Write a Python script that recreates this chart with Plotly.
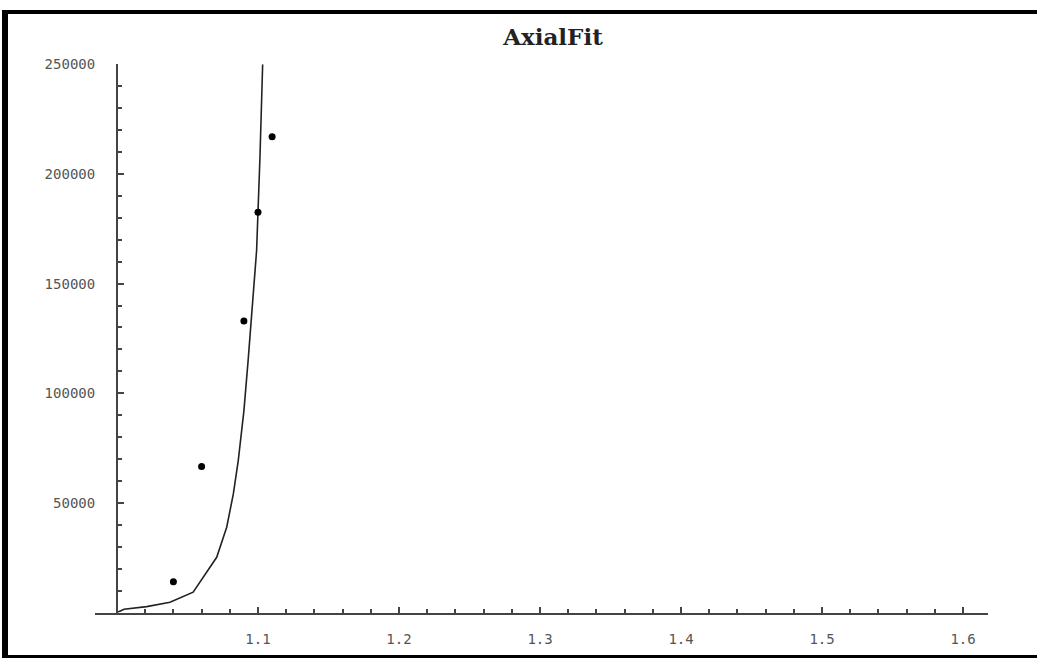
import plotly.graph_objects as go

W, H = 1037, 659

# Measured data points
data_x = [1.04, 1.06, 1.09, 1.10, 1.11]
data_y = [14000, 66600, 133000, 182500, 217000]

# Fitted curve (sampled)
fit_x = [1.0, 1.005, 1.021, 1.0376, 1.054, 1.0707, 1.0778, 1.0825, 1.086,
         1.09, 1.093, 1.0967, 1.099, 1.1014, 1.1026, 1.1033]
fit_y = [0, 1500, 2700, 4700, 9300, 25200, 38900, 54100, 69300,
         92000, 115000, 145000, 165000, 208000, 234000, 250000]

x_tickvals = [1.1, 1.2, 1.3, 1.4, 1.5, 1.6]
x_ticktext = ["1.1", "1.2", "1.3", "1.4", "1.5", "1.6"]
y_tickvals = [50000, 100000, 150000, 200000, 250000]
y_ticktext = ["50000", "100000", "150000", "200000", "250000"]

def px(x):
    return x / W

def py(y):
    return 1 - y / H

fig = go.Figure()
fig.add_trace(go.Scatter(x=fit_x, y=fit_y, mode="lines",
                         line=dict(color="#222222", width=1.6),
                         showlegend=False, hoverinfo="skip"))
fig.add_trace(go.Scatter(x=data_x, y=data_y, mode="markers",
                         marker=dict(color="black", size=7),
                         showlegend=False))

tickfont = dict(family="DejaVu Sans Mono", size=14, color="#555555")

fig.update_layout(
    width=W, height=H,
    margin=dict(l=0, r=0, t=0, b=0),
    paper_bgcolor="white", plot_bgcolor="white",
    title=dict(text="<b>AxialFit</b>", x=px(553), y=py(37),
               xanchor="center", yanchor="middle",
               font=dict(family="DejaVu Serif", size=23, color="#222222")),
    xaxis=dict(domain=[px(95), px(988)], range=[0.9844, 1.6177],
               showgrid=False, zeroline=False,
               showline=True, linecolor="#444444", linewidth=2,
               ticks="inside", ticklen=6, tickwidth=2, tickcolor="#444444",
               tickvals=x_tickvals, ticktext=x_ticktext, tickfont=tickfont,
               ticklabelstandoff=13,
               minor=dict(ticks="inside", dtick=0.02, tick0=1.0, ticklen=4,
                          tickwidth=2, tickcolor="#444444", showgrid=False),
               anchor="y"),
    yaxis=dict(domain=[py(612), py(57)], range=[0, 250000],
               anchor="free", position=px(117),
               showgrid=False, zeroline=False,
               showline=True, linecolor="#444444", linewidth=2,
               ticks="inside", ticklen=6, tickwidth=2, tickcolor="#444444",
               tickvals=y_tickvals, ticktext=y_ticktext, tickfont=tickfont,
               ticklabelstandoff=18,
               minor=dict(ticks="inside", dtick=10000, tick0=0, ticklen=4,
                          tickwidth=2, tickcolor="#444444", showgrid=False)),
    shapes=[
        dict(type="rect", xref="paper", yref="paper",
             x0=px(2), x1=px(8), y0=py(657), y1=py(2),
             fillcolor="black", line=dict(width=0), layer="above"),
        dict(type="rect", xref="paper", yref="paper",
             x0=px(2), x1=px(1037), y0=py(6), y1=py(2),
             fillcolor="black", line=dict(width=0), layer="above"),
        dict(type="rect", xref="paper", yref="paper",
             x0=px(2), x1=px(1037), y0=py(658), y1=py(655),
             fillcolor="black", line=dict(width=0), layer="above"),
    ],
)

fig.write_html("out.html")
